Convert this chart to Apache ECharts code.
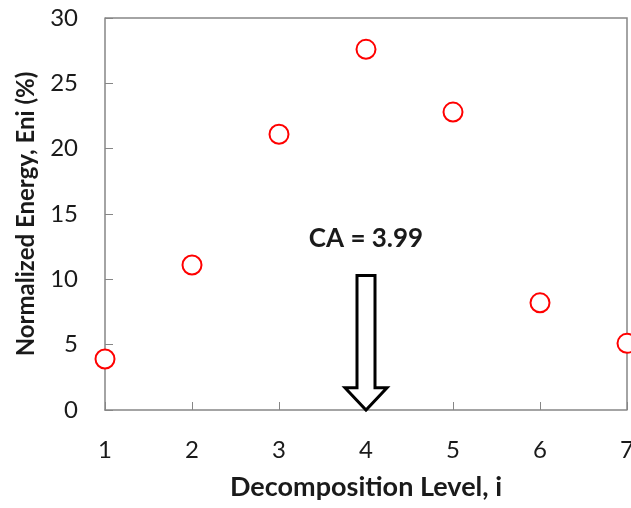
<!DOCTYPE html>
<html>
<head>
<meta charset="utf-8">
<script src="https://cdn.jsdelivr.net/npm/echarts@6/dist/echarts.min.js"></script>
<style>
  html, body { margin: 0; padding: 0; background: #fff; }
  #chart { width: 631px; height: 508px; }
</style>
</head>
<body>
<div id="chart"></div>
<script>
// decomposition levels and normalized energy (%)
const levels = [1, 2, 3, 4, 5, 6, 7];
const energy = [3.9, 11.1, 21.1, 27.6, 22.8, 8.2, 5.1];
// arrow annotation: [x, top of shaft, base of head, tip]
const arrowPos = [4, 10.3, 1.7, 0];
const arrowLabel = "CA = 3.99";
const labelY = 13.1;

const chart = echarts.init(document.getElementById("chart"));
const font = "Lato";
const axisGray = "#868686";
const textColor = "#1a1a1a";

const option = {
  animation: false,
  grid: { left: 105, right: 4, top: 18, bottom: 98, outerBoundsMode: "none", containLabel: false },
  xAxis: {
    type: "value",
    min: 1,
    max: 7,
    interval: 1,
    name: "Decomposition Level, i",
    nameLocation: "middle",
    nameGap: 64,
    nameTextStyle: { fontFamily: font, fontSize: 27, fontWeight: "bold", color: textColor },
    axisLine: { show: true, lineStyle: { color: axisGray, width: 1.5 } },
    axisTick: { show: true, inside: true, length: 8, lineStyle: { color: axisGray } },
    axisLabel: { fontFamily: font, fontSize: 24, color: textColor, margin: 28 },
    splitLine: { show: false },
  },
  yAxis: {
    type: "value",
    min: 0,
    max: 30,
    interval: 5,
    name: "Normalized Energy, Eni (%)",
    nameLocation: "middle",
    nameGap: 67,
    nameTextStyle: { fontFamily: font, fontSize: 24, fontWeight: "bold", color: textColor },
    axisLine: { show: true, lineStyle: { color: axisGray, width: 1.5 } },
    axisTick: { show: true, inside: true, length: 8, lineStyle: { color: axisGray } },
    axisLabel: { fontFamily: font, fontSize: 24, color: textColor, margin: 27 },
    splitLine: { show: false },
  },
  series: [
    {
      type: "scatter",
      data: levels.map((x, i) => [x, energy[i]]),
      symbol: "emptyCircle",
      symbolSize: 19,
      clip: false,
      itemStyle: { color: "#ff0000", borderWidth: 3.2, opacity: 1 },
      z: 5,
    },
    {
      type: "custom",
      data: [arrowPos],
      renderItem: (params, api) => {
        const top = api.coord([api.value(0), api.value(1)]);
        const base = api.coord([api.value(0), api.value(2)]);
        const tip = api.coord([api.value(0), api.value(3)]);
        const cx = top[0];
        const sw = 9;
        const hw = 21;
        return {
          type: "polygon",
          shape: {
            points: [
              [cx - sw, top[1]],
              [cx + sw, top[1]],
              [cx + sw, base[1]],
              [cx + hw, base[1]],
              [cx, tip[1]],
              [cx - hw, base[1]],
              [cx - sw, base[1]],
            ],
          },
          style: { fill: "#fff", stroke: "#000", lineWidth: 3, lineJoin: "miter" },
        };
      },
      z: 4,
    },
    {
      type: "scatter",
      data: [[arrowPos[0], labelY]],
      symbolSize: 0,
      itemStyle: { opacity: 1 },
      label: {
        show: true,
        formatter: arrowLabel,
        position: "inside",
        fontFamily: font,
        fontSize: 26,
        fontWeight: "bold",
        color: textColor,
      },
    },
  ],
};

chart.setOption(option);

// box frame on top and right
const tl = chart.convertToPixel({ gridIndex: 0 }, [1, 30]);
const br = chart.convertToPixel({ gridIndex: 0 }, [7, 0]);
chart.setOption({
  graphic: [
    {
      type: "polyline",
      shape: { points: [[tl[0], tl[1]], [br[0], tl[1]], [br[0], br[1]]] },
      style: { stroke: axisGray, lineWidth: 1.5, fill: null },
      z: 1,
    },
  ],
});
</script>
</body>
</html>
